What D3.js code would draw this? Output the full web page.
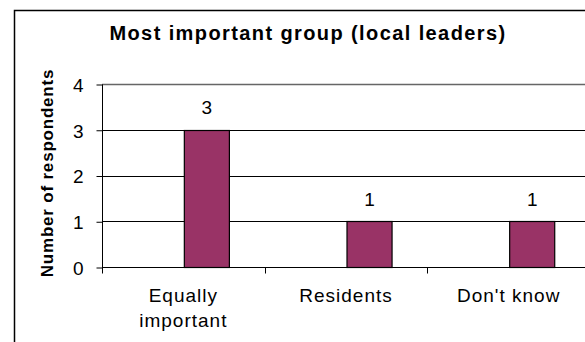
<!DOCTYPE html>
<html><head><meta charset="utf-8">
<script src="https://cdn.jsdelivr.net/npm/d3@7"></script>
<style>html,body{margin:0;padding:0;background:#fff;}svg{display:block;}</style>
</head><body>
<svg id="c" width="585" height="342"></svg>
<script>
const categories = [["Equally","important"],["Residents"],["Don't know"]];
const categoryKeys = ["Equally important","Residents","Don't know"];
const values = [3,1,1];
const yTicks = [0,1,2,3,4];
const titleText = "Most important group (local leaders)";
const yTitle = "Number of respondents";

(function(){
const svg = d3.select("#c");
const font = "'Liberation Sans', Arial, sans-serif";

// outer frame
svg.append("rect").attr("x",14.5).attr("y",10.5).attr("width",600).attr("height",400)
  .attr("fill","#fff").attr("stroke","#000").attr("stroke-width",1.5);

const pl = 102, pr = 590, pt = 84, pb = 267;
const x = d3.scaleBand().domain(categoryKeys).range([pl,pr]).padding(0);
const y = d3.scaleLinear().domain([0,4]).range([pb,pt]);

// gridlines
svg.append("g").selectAll("line").data(yTicks.filter(d=>d>0)).join("line")
  .attr("x1",pl).attr("x2",585).attr("y1",d=>Math.round(y(d))+0.5).attr("y2",d=>Math.round(y(d))+0.5)
  .attr("stroke",d=>d===4?"#666":"#000").attr("stroke-width",d=>d===4?1.5:1);

// bars
const bw = x.bandwidth()*0.277;
svg.append("g").selectAll("rect").data(values).join("rect")
  .attr("x",(d,i)=>x(categoryKeys[i])+x.bandwidth()/2+1)
  .attr("y",d=>Math.round(y(d))+0.5)
  .attr("width",bw)
  .attr("height",d=>Math.round(y(0))-Math.round(y(d)))
  .attr("fill","#993366").attr("stroke","#000").attr("stroke-width",1.2);

// value labels
svg.append("g").selectAll("text").data(values).join("text")
  .attr("x",(d,i)=>x(categoryKeys[i])+x.bandwidth()/2+1+bw/2)
  .attr("y",d=>y(d)-15.5)
  .attr("text-anchor","middle").attr("font-family",font).attr("font-size",19)
  .text(d=>d);

// y axis
const yAxis = d3.axisLeft(y).tickValues(yTicks).tickSize(6).tickPadding(13).tickFormat(d3.format("d"));
const ga = svg.append("g").attr("transform",`translate(${pl+0.5},0.5)`).call(yAxis);
ga.select(".domain").remove();
ga.append("line").attr("x1",0).attr("x2",0).attr("y1",pt).attr("y2",pb).attr("stroke","#000");
ga.selectAll(".tick line").attr("stroke","#000");
ga.selectAll(".tick text").attr("font-family",font).attr("font-size",19).attr("fill","#000").attr("dy","0.36em");

// x axis
const gx = svg.append("g").attr("transform",`translate(0,${Math.round(pb)+0.5})`);
gx.append("line").attr("x1",pl).attr("x2",585).attr("stroke","#000");
const bounds = [pl, ...categoryKeys.slice(1).map(k=>x(k)), pr];
gx.selectAll("line.t").data(bounds).join("line").attr("class","t")
  .attr("x1",d=>Math.round(d)+0.5).attr("x2",d=>Math.round(d)+0.5).attr("y1",0).attr("y2",6).attr("stroke","#000");
const lab = gx.selectAll("text").data(categories).join("text")
  .attr("text-anchor","middle").attr("font-family",font).attr("font-size",19).attr("letter-spacing",1)
  .attr("transform",(d,i)=>`translate(${x(categoryKeys[i])+x.bandwidth()/2},0)`);
lab.selectAll("tspan").data(d=>d).join("tspan")
  .attr("x",0).attr("y",(d,i)=>34+i*25).text(d=>d);

// title
svg.append("text").attr("x",308).attr("y",40).attr("text-anchor","middle")
  .attr("font-family",font).attr("font-size",20).attr("font-weight","bold").attr("letter-spacing",1.4).text(titleText);

// y title
svg.append("text").attr("transform","translate(53,173) rotate(-90)").attr("text-anchor","middle")
  .attr("font-family",font).attr("font-size",17).attr("font-weight","bold").attr("letter-spacing",0.8).text(yTitle);
})();
</script>
</body></html>
